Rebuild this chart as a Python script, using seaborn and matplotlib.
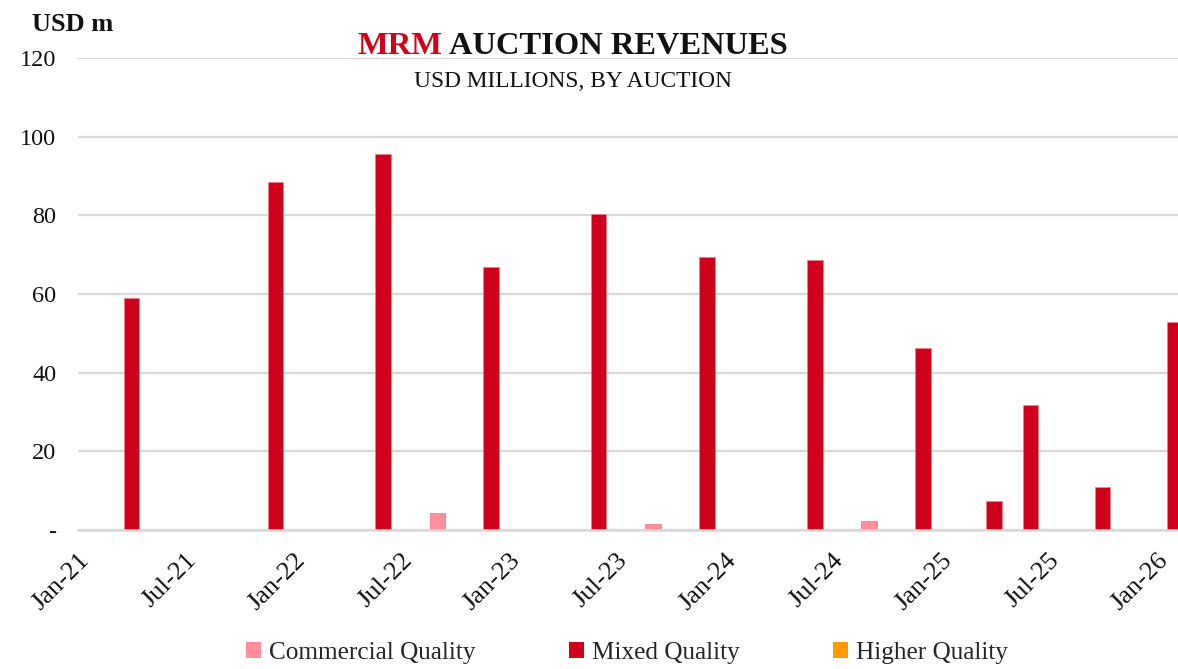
import matplotlib
matplotlib.use("Agg")
import matplotlib.pyplot as plt
import matplotlib.dates as mdates
from matplotlib.patches import Patch
import seaborn as sns
import pandas as pd
import numpy as np

# ---- data ----
series_names = ["Commercial Quality", "Mixed Quality", "Higher Quality"]
series_colors = ["#FF8F9C", "#D0021B", "#FF9900"]

commercial_dates = ["2022-09-01", "2023-09-01", "2024-09-01"]
commercial_values = [4.2, 1.5, 2.4]

mixed_dates = ["2021-04-01", "2021-12-01", "2022-06-01", "2022-12-01",
               "2023-06-01", "2023-12-01", "2024-06-01", "2024-12-01",
               "2025-04-01", "2025-06-01", "2025-10-01", "2026-02-01"]
mixed_values = [58.9, 88.4, 95.5, 66.8, 80.4, 69.5, 68.6, 46.2,
                7.3, 31.7, 11.0, 53.0]

higher_dates = []
higher_values = []

y_ticks = [0, 20, 40, 60, 80, 100, 120]
y_tick_labels = ["-", "20", "40", "60", "80", "100", "120"]

# ---- build frame ----
rows = []
for name, ds, vs in zip(series_names,
                        [commercial_dates, mixed_dates, higher_dates],
                        [commercial_values, mixed_values, higher_values]):
    for d, v in zip(ds, vs):
        rows.append({"date": mdates.date2num(pd.Timestamp(d)), "value": v, "quality": name})
df = pd.DataFrame(rows)

sns.set_theme(style="white")
plt.rcParams["font.family"] = ["Liberation Serif", "DejaVu Serif"]

W, H = 1178, 669
fig = plt.figure(figsize=(W / 100, H / 100), dpi=100)
ax = fig.add_axes([78.4 / W, 1 - 530 / H, 1 - 78.4 / W, (530 - 58) / H])

uniq = np.sort(df["date"].unique())
min_gap = np.min(np.diff(uniq))
bar_days = 26.5
palette = dict(zip(series_names, series_colors))

sns.barplot(data=df, x="date", y="value", hue="quality", hue_order=series_names,
            palette=palette, native_scale=True, dodge=False, saturation=1,
            width=bar_days / min_gap, errorbar=None, legend=False,
            edgecolor="#F07F8E", linewidth=0.6, ax=ax, zorder=3)

x0 = mdates.date2num(pd.Timestamp("2021-01-01"))
x1 = mdates.date2num(pd.Timestamp("2026-01-01"))
px_per_day = (1156.7 - 78.4) / (x1 - x0)
ax.set_xlim(x0, x0 + (W - 78.4) / px_per_day)
ax.set_ylim(0, 120)

ax.xaxis.set_major_locator(mdates.MonthLocator(bymonth=[1, 7]))
ax.xaxis.set_major_formatter(mdates.DateFormatter("%b-%y"))
ax.set_yticks(y_ticks)
ax.set_yticklabels(y_tick_labels)
ax.set_xlabel("")
ax.set_ylabel("")

grid_c = "#D9D9D9"
ax.yaxis.grid(True, color=grid_c, linewidth=1.6, zorder=0)
ax.xaxis.grid(False)
for s in ["left", "right", "top"]:
    ax.spines[s].set_visible(False)
ax.spines["bottom"].set_color(grid_c)
ax.spines["bottom"].set_linewidth(1.8)
ax.spines["bottom"].set_zorder(4)
ax.tick_params(axis="x", direction="out", length=6, width=1.4, color=grid_c,
               labelsize=19, labelcolor="#111111", pad=8)
ax.tick_params(axis="y", length=0, labelsize=17.5, labelcolor="#111111", pad=16)
for lab in ax.get_xticklabels():
    lab.set_rotation(45)
    lab.set_ha("right")
    lab.set_rotation_mode("anchor")
ax.set_axisbelow(True)

# titles
fig.text(32 / W, 1 - 31 / H, "USD m", fontsize=19, fontweight="bold",
         color="#111111", ha="left", va="baseline")
TS = 23.4
t1 = fig.text(573 / W, 1 - 54 / H, "MRM AUCTION REVENUES", fontsize=TS,
              fontweight="bold", color="#111111", ha="center", va="baseline")
fig.canvas.draw()
bb = t1.get_window_extent()
t1.set_text("")
fig.text(bb.x0 / W, 1 - 54 / H, "MRM", fontsize=TS, fontweight="bold",
         color="#D0021B", ha="left", va="baseline")
fig.text(bb.x1 / W, 1 - 54 / H, "AUCTION REVENUES", fontsize=TS,
         fontweight="bold", color="#111111", ha="right", va="baseline")
fig.text(573 / W, 1 - 87 / H, "USD MILLIONS, BY AUCTION", fontsize=16.8,
         color="#111111", ha="center", va="baseline")

handles = [Patch(facecolor=c, edgecolor="none") for c in series_colors]
fig.legend(handles, series_names, loc="lower center", bbox_to_anchor=(627 / W, -0.026),
           ncol=3, frameon=False, fontsize=18.2, handlelength=0.6, handleheight=0.6,
           handletextpad=0.3, columnspacing=3.7)

fig.savefig("out.png", dpi=100)
